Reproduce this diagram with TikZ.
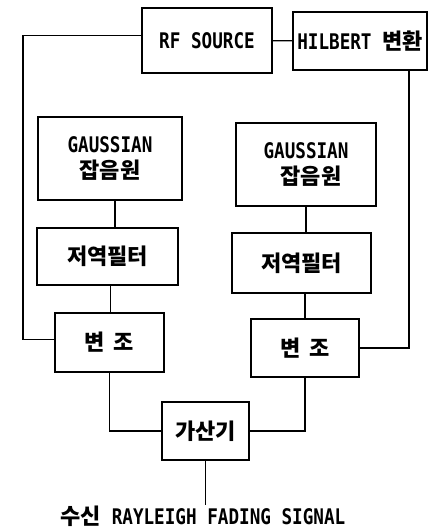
\documentclass[tikz,border=0pt]{standalone}
\usepackage{fontspec}
\usepackage{tikz}
\usetikzlibrary{positioning}
\setmainfont[FakeStretch=0.82]{DejaVu Sans Mono}
\newfontfamily\kr{Noto Sans CJK KR}
\newcommand{\boxfont}{\fontsize{21.5}{25}\selectfont\bfseries}
\newcommand{\hg}[1]{{\kr\fontsize{22}{26}\selectfont\bfseries #1}}
\tikzset{
  blockbox/.style={
    draw=black,
    line width=1.2pt,
    align=center,
    inner sep=0pt,
    font=\boxfont
  },
  wire/.style={
    line width=1.2pt,
    draw=black
  }
}

\begin{document}
\begin{tikzpicture}[x=1pt,y=-1pt]
    \useasboundingbox (0,0) rectangle (428,530);

    \node[blockbox, minimum width=130pt, minimum height=65pt] (rf) at (207,40.5) {RF SOURCE};
    \node[blockbox, minimum width=134pt, minimum height=58pt] (hilbert) at (360,41) {HILBERT \hg{변환}};

    \node[blockbox, minimum width=144pt, minimum height=83pt] (noiseL) at (110,158.5) {GAUSSIAN\\[1pt]\hg{잡음원}};
    \node[blockbox, minimum width=140pt, minimum height=83pt] (noiseR) at (306,164.5) {GAUSSIAN\\[1pt]\hspace{10pt}\hg{잡음원}};

    \node[blockbox, minimum width=141pt, minimum height=57pt] (lpfL) at (107.5,256.5) {\hg{저역필터}};
    \node[blockbox, minimum width=139pt, minimum height=60pt] (lpfR) at (301.5,263) {\hg{저역필터}};

    \node[blockbox, minimum width=109pt, minimum height=59pt] (modL) at (109.5,342.5) {\hg{변\hspace{9pt}조}};
    \node[blockbox, minimum width=108pt, minimum height=58pt] (modR) at (305,348) {\hg{변\hspace{9pt}조}};

    \node[blockbox, minimum width=87pt, minimum height=58pt] (adder) at (205.5,431) {\hg{가산기}};

    \node[font=\boxfont, inner sep=0pt] (output) at (203,516) {\hg{수신} RAYLEIGH FADING SIGNAL};

    \coordinate (lbus) at (23,200);

    \draw[wire] (rf) -- (hilbert);
    \draw[wire] ([yshift=5pt]rf.west) -| (lbus) |- ([yshift=3pt]modL.west);
    \draw[wire] ([xshift=49pt]hilbert.south) |- (modR.east);
    \draw[wire] ([xshift=5pt]noiseL.south) -- ([xshift=5pt]noiseL.south |- lpfL.north);
    \draw[wire] ([xshift=3pt]lpfL.south) -- ([xshift=3pt]lpfL.south |- modL.north);
    \draw[wire] (noiseR.south) -- (noiseR.south |- lpfR.north);
    \draw[wire] (modR.north |- lpfR.south) -- (modR.north);
    \draw[wire] (modL.south) |- (adder.west);
    \draw[wire] (modR.south) |- (adder.east);
    \draw[wire] (adder.south) -- (adder.south |- 0,505);
\end{tikzpicture}
\end{document}
